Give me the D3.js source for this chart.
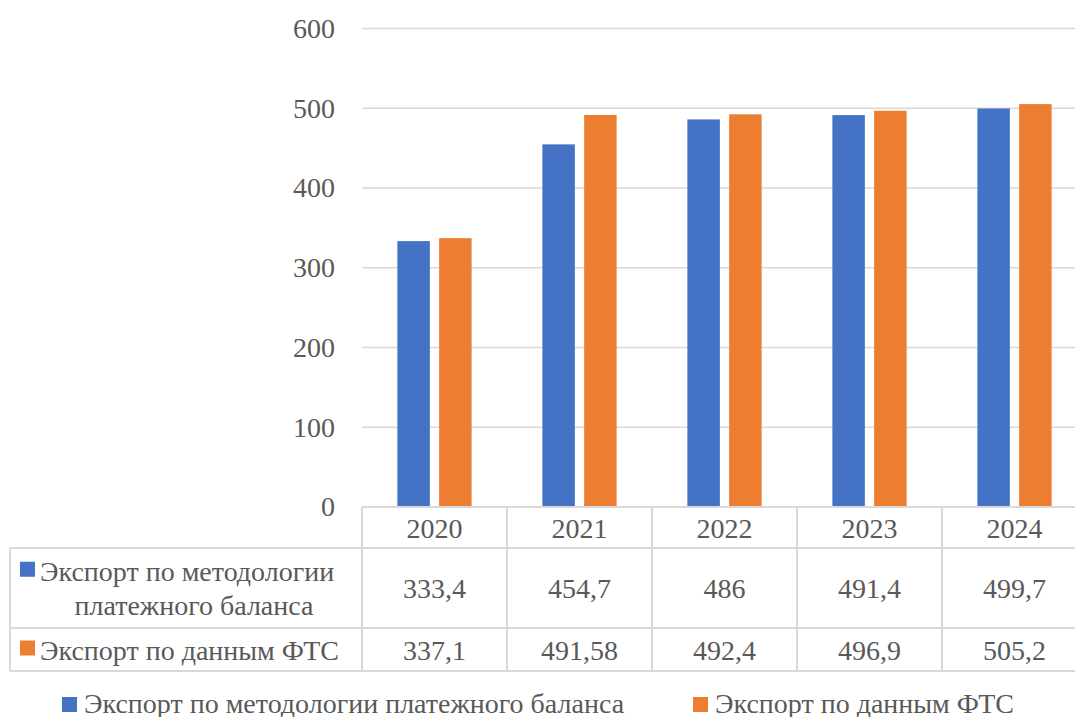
<!DOCTYPE html>
<html>
<head>
<meta charset="utf-8">
<script src="https://cdn.jsdelivr.net/npm/d3@7"></script>
</head>
<body style="margin:0">
<div class="canvas"></div>
<script>
const categories = ['2020', '2021', '2022', '2023', '2024'];
const bopValues = [333.4, 454.7, 486, 491.4, 499.7];
const ftsValues = [337.1, 491.58, 492.4, 496.9, 505.2];
const seriesNames = ['Экспорт по методологии платежного баланса', 'Экспорт по данным ФТС'];
const seriesColors = ['#4472C4', '#ED7D31'];
const yTicks = [0, 100, 200, 300, 400, 500, 600];

const svgWidth = 1075;
const svgHeight = 717;
const plot = { left: 362, right: 1087, top: 28.5, bottom: 507 };
const table = { left: 10, row1: 548, row2: 628, row3: 671 };
const gridColor = '#d9d9d9';
const textColor = '#595959';
const fontSize = 28;

const svg = d3.select('.canvas')
  .append('svg')
    .attr('width', svgWidth)
    .attr('height', svgHeight);

// same font for every label
const styleText = sel => sel
  .style('font-family', '"Liberation Serif"')
  .attr('font-size', fontSize)
  .attr('fill', textColor);

const x = d3.scaleBand().domain(categories).range([plot.left, plot.right]);
const y = d3.scaleLinear().domain([0, 600]).range([plot.bottom, plot.top]);

// gridlines
svg.append('g').selectAll('line')
  .data(yTicks.filter(d => d > 0))
  .enter().append('line')
    .attr('x1', plot.left).attr('x2', plot.right)
    .attr('y1', d => y(d)).attr('y2', d => y(d))
    .attr('stroke', gridColor).attr('stroke-width', 1.5);

// y axis labels
const yAxis = d3.axisLeft(y).tickValues(yTicks).tickSize(0).tickPadding(27);
const yAxisGroup = svg.append('g')
  .attr('transform', `translate(${plot.left},0)`)
  .call(yAxis);
yAxisGroup.select('.domain').remove();
yAxisGroup.selectAll('text').call(styleText);

// bars
const step = x.step();
const barW = step * 0.224;
const barGap = step * 0.064;
const series = [bopValues, ftsValues];

series.forEach((vals, i) => {
  svg.append('g').selectAll('rect')
    .data(vals)
    .enter().append('rect')
      .attr('x', (d, j) => {
        const c = x(categories[j]) + step / 2;
        return i === 0 ? c - barGap / 2 - barW : c + barGap / 2;
      })
      .attr('y', d => y(d))
      .attr('width', barW)
      .attr('height', d => y(0) - y(d))
      .attr('fill', seriesColors[i]);
});

// data table
const tbl = svg.append('g');
const hline = (x1, x2, yy) => tbl.append('line')
  .attr('x1', x1).attr('x2', x2).attr('y1', yy).attr('y2', yy)
  .attr('stroke', gridColor).attr('stroke-width', 2);
const vline = (xx, y1, y2) => tbl.append('line')
  .attr('x1', xx).attr('x2', xx).attr('y1', y1).attr('y2', y2)
  .attr('stroke', gridColor).attr('stroke-width', 2);

hline(plot.left, plot.right, plot.bottom);
hline(table.left, plot.right, table.row1);
hline(table.left, plot.right, table.row2);
hline(table.left, plot.right, table.row3);
vline(table.left, table.row1, table.row3);
categories.forEach(c => vline(x(c), plot.bottom, table.row3));
vline(plot.right, plot.bottom, table.row3);

// header row
tbl.selectAll('text.cat')
  .data(categories)
  .enter().append('text')
    .attr('class', 'cat')
    .attr('x', d => x(d) + step / 2)
    .attr('y', (plot.bottom + table.row1) / 2 + 10)
    .attr('text-anchor', 'middle')
    .text(d => d)
    .call(styleText);

const fmt = v => String(v).replace('.', ',');
const rowMid = [(table.row1 + table.row2) / 2, (table.row2 + table.row3) / 2];

series.forEach((vals, i) => {
  tbl.append('g').selectAll('text')
    .data(vals)
    .enter().append('text')
      .attr('x', (d, j) => x(categories[j]) + step / 2)
      .attr('y', rowMid[i] + 10)
      .attr('text-anchor', 'middle')
      .text(d => fmt(d))
      .call(styleText);
});

// row labels: square + series name, first row wrapped on two lines
const rowLines = [['Экспорт по методологии', 'платежного баланса'], ['Экспорт по данным ФТС']];
const lineH = 34.5;
const labelCx = (table.left + plot.left) / 2;
rowLines.forEach((lines, i) => {
  const y0 = rowMid[i] - (lines.length - 1) * lineH / 2 + 10;
  tbl.append('rect')
    .attr('x', table.left + 10).attr('y', y0 - 19)
    .attr('width', 15).attr('height', 15)
    .attr('fill', seriesColors[i]);
  lines.forEach((ln, k) => {
    tbl.append('text')
      .attr('x', k === 0 ? table.left + 30 : labelCx + 8)
      .attr('y', y0 + k * lineH)
      .attr('text-anchor', k === 0 ? 'start' : 'middle')
      .text(ln)
      .call(styleText);
  });
});

// legend
const legend = svg.append('g');
const legendX = [62, 693];
seriesNames.forEach((name, i) => {
  legend.append('rect')
    .attr('x', legendX[i]).attr('y', 697)
    .attr('width', 15).attr('height', 15)
    .attr('fill', seriesColors[i]);
  legend.append('text')
    .attr('x', legendX[i] + 22).attr('y', 713)
    .text(name)
    .call(styleText);
});
</script>
</body>
</html>
